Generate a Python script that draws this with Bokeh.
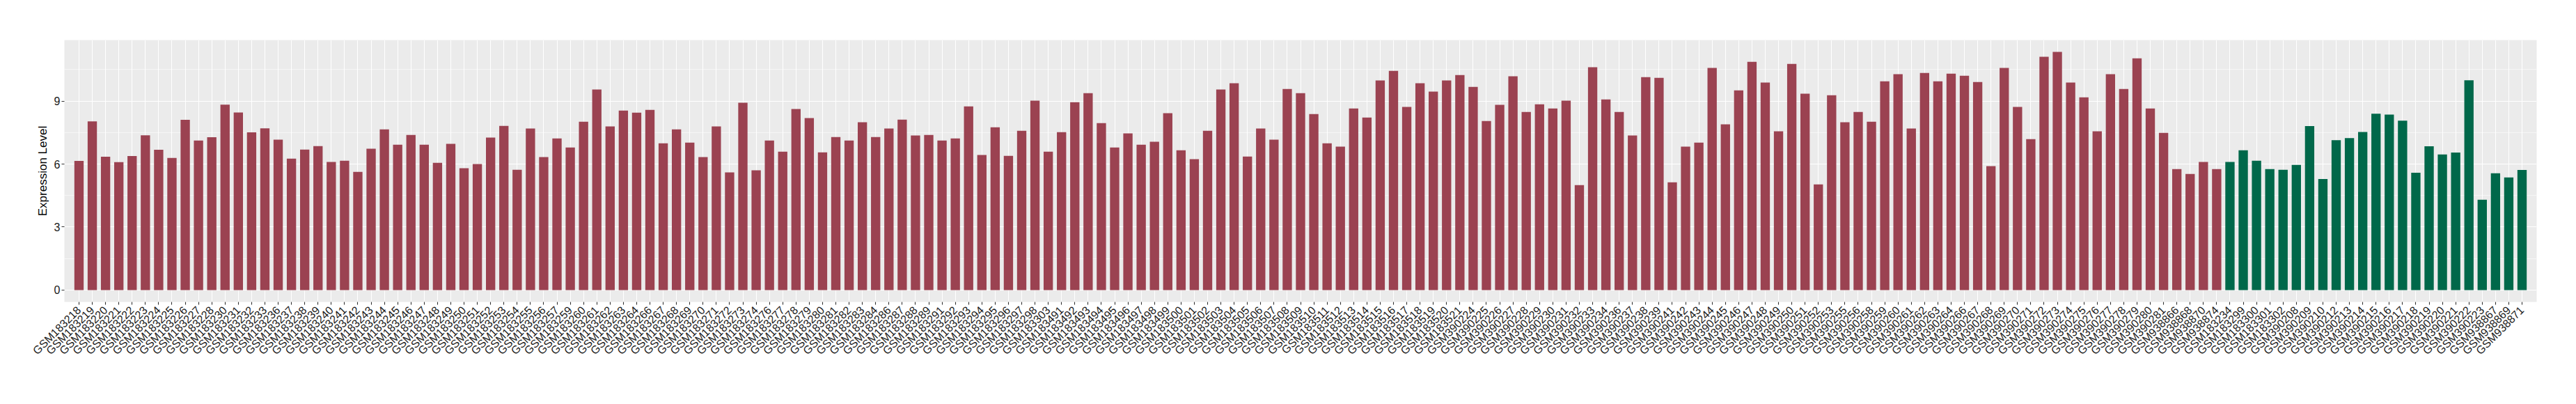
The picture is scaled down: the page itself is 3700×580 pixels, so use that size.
import math
from bokeh.plotting import figure
from bokeh.models import ColumnDataSource, FactorRange, Range1d, FixedTicker
from bokeh.embed import file_html
from bokeh.resources import INLINE

red_samples = (
    ["GSM1832%d" % n for n in [18, 19, 20, 21, 22, 23, 24, 25, 26, 27, 28, 30, 31, 32, 33, 36]]
    + ["GSM1832%d" % n for n in range(37, 56)]
    + ["GSM1832%d" % n for n in [56, 57, 59, 60, 61, 62, 63, 64, 66, 67, 68, 69, 70, 71, 72, 73, 74, 76, 77]]
    + ["GSM1832%d" % n for n in [78, 79, 80, 81, 82, 83, 84, 86, 87, 88, 89, 91, 92, 93, 94, 95, 96, 97, 98]]
    + ["GSM183303"]
    + ["GSM183%d" % n for n in range(491, 522)]
    + ["GSM390%d" % n for n in range(224, 230)]
    + ["GSM390%d" % n for n in [230, 231, 232, 233, 234, 236, 237, 238, 239, 241, 242, 243, 244, 245, 246, 247, 248, 249, 250]]
    + ["GSM390%d" % n for n in [251, 252, 253, 255, 256, 258, 259, 260, 261, 262, 263, 264, 266, 267, 268, 269, 270, 271, 272]]
    + ["GSM390%d" % n for n in range(273, 282)]
    + ["GSM938866", "GSM938868", "GSM938870", "GSM938874"]
)

red_values = [
    6.15, 8.03, 6.35, 6.09, 6.38, 7.37, 6.68, 6.29, 8.11, 7.12, 7.28, 8.83, 8.46, 7.51, 7.70, 7.16,
    6.26, 6.69, 6.86, 6.10, 6.16, 5.63, 6.73, 7.65, 6.92, 7.39, 6.92, 6.06, 6.96, 5.80, 6.00, 7.26, 7.82, 5.73, 7.69,
    6.33, 7.22, 6.79, 8.02, 9.55, 7.79, 8.55, 8.45, 8.58, 6.99, 7.65, 7.02, 6.33, 7.79, 5.60, 8.92, 5.70, 7.12, 6.59,
    8.62, 8.19, 6.56, 7.29, 7.12, 7.99, 7.29, 7.69, 8.12, 7.36, 7.39, 7.12, 7.22, 8.75, 6.43, 7.75, 6.39, 7.59, 9.02,
    6.59,
    7.52, 8.95, 9.38, 7.95, 6.79, 7.46, 6.92, 7.06, 8.42, 6.66, 6.23, 7.59, 9.55, 9.85, 6.36, 7.69, 7.16, 9.58,
    9.38, 8.38, 6.99, 6.83, 8.65, 8.22, 9.98, 10.44, 8.72, 9.85, 9.45, 9.98, 10.24,
    9.68, 8.05, 8.82, 10.18, 8.48, 8.85,
    8.65, 9.02, 5.00, 10.61, 9.08, 8.48, 7.36, 10.14, 10.11, 5.13, 6.83, 7.02, 10.58, 7.89, 9.51, 10.87, 9.88, 7.56, 10.77,
    9.35, 5.03, 9.28, 7.99, 8.48, 8.02, 9.94, 10.28, 7.69, 10.34, 9.94, 10.31, 10.21, 9.91, 5.90, 10.58, 8.72, 7.19, 11.11,
    11.34, 9.88, 9.18, 7.56, 10.28, 9.58, 11.04, 8.65, 7.49,
    5.76, 5.53, 6.10, 5.76,
]

green_samples = (
    ["GSM183234", "GSM183299", "GSM183300", "GSM183301", "GSM183302"]
    + ["GSM390%d" % n for n in [208, 209, 210, 212, 213, 214, 215, 216, 217, 218, 219, 220, 221, 222, 223]]
    + ["GSM938867", "GSM938869", "GSM938871"]
)

green_values = [
    6.10, 6.66, 6.16, 5.76, 5.73,
    5.96, 7.81, 5.29, 7.14, 7.24, 7.53, 8.40, 8.36, 8.07, 5.59, 6.85, 6.46, 6.55, 9.99, 4.30,
    5.56, 5.36, 5.72,
]

group_colors = {"red": "#9B4251", "green": "#00684A"}

y_ticks = [0, 3, 6, 9]
y_minor = [1.5, 4.5, 7.5, 10.5]

samples = red_samples + green_samples
values = red_values + green_values
colors = [group_colors["red"]] * len(red_samples) + [group_colors["green"]] * len(green_samples)

src = ColumnDataSource(dict(x=samples, top=values, color=colors))

ymax = max(values)
pad = ymax * 0.05

p = figure(
    x_range=FactorRange(factors=samples, range_padding=0.6, range_padding_units="absolute"),
    y_range=Range1d(-pad, ymax + pad),
    width=3700, height=580,
    min_border_left=92, min_border_right=57, min_border_top=57, min_border_bottom=147,
    output_backend="svg", toolbar_location=None, title=None,
    background_fill_color="#EBEBEB", border_fill_color="white",
)
p.outline_line_color = None

p.vbar(x="x", top="top", bottom=0, width=0.7, color="color", line_color=None, source=src)

font = "Liberation Sans"
label_color = "#1A1A1A"

p.yaxis.ticker = FixedTicker(ticks=y_ticks, minor_ticks=y_minor)
p.ygrid.grid_line_color = "white"
p.ygrid.grid_line_width = 1.1
p.ygrid.minor_grid_line_color = "white"
p.ygrid.minor_grid_line_width = 0.55
p.xgrid.grid_line_color = "white"
p.xgrid.grid_line_width = 1.1

for ax in (p.xaxis, p.yaxis):
    ax.axis_line_color = None
    ax.major_tick_line_color = "#333333"
    ax.major_tick_line_width = 1.1
    ax.major_tick_out = 4
    ax.major_tick_in = 0
    ax.minor_tick_line_color = None
    ax.major_label_text_color = label_color
    ax.major_label_text_font = font
    ax.major_label_text_font_size = "16px"

p.yaxis.major_label_standoff = 2
p.xaxis.major_label_standoff = 5
p.xaxis.major_label_orientation = math.pi / 4
p.yaxis.axis_label = "Expression Level"
p.yaxis.axis_label_text_font = font
p.yaxis.axis_label_text_font_size = "17px"
p.yaxis.axis_label_text_font_style = "normal"
p.yaxis.axis_label_text_color = "black"
p.yaxis.axis_label_standoff = 4

open("out.html", "w").write(file_html(p, INLINE))
